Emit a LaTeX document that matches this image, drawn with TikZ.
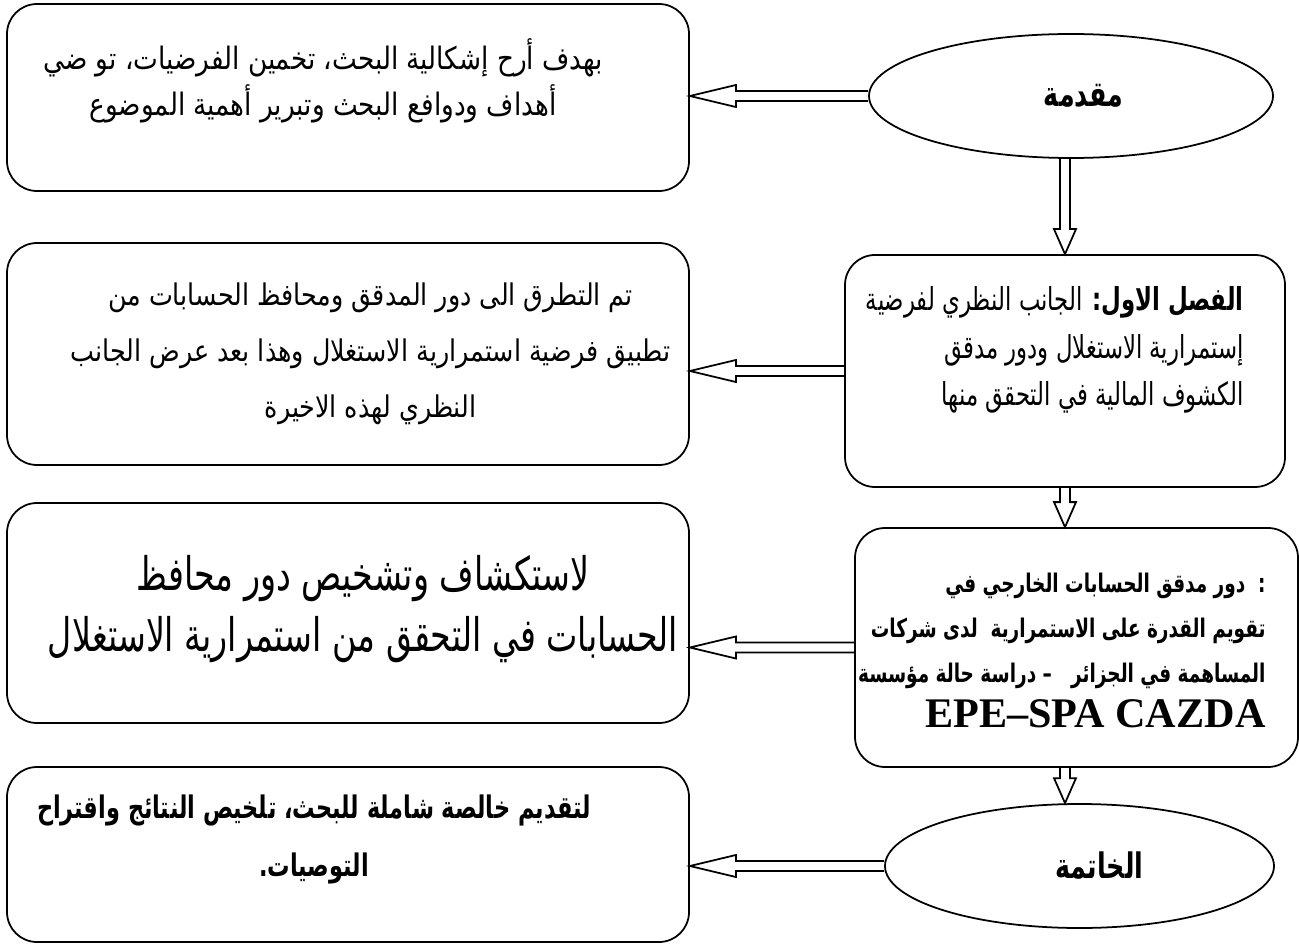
\documentclass[tikz,border=0pt]{standalone}
\usepackage{fontspec}
\setmainfont{Liberation Serif}
\newfontfamily\arabicfont[Script=Arabic, FakeStretch=0.85]{DejaVu Sans}
\newfontfamily\narrowfont[Script=Arabic, FakeStretch=0.72]{DejaVu Sans}
\TeXXeTstate=1
\usetikzlibrary{calc,shapes}

\begin{document}
\begin{tikzpicture}
\tikzset{
	round box/.style = {draw, line width = 1pt, rounded corners = 0.6cm, inner sep = 0},
	oval node/.style = {ellipse, draw, line width = 1pt, inner sep = 0, minimum height = 2.48cm,
		font = \narrowfont\bfseries\fontsize{20}{20}\selectfont},
	box text/.style = {align = center, inner sep = 0, font = \arabicfont\fontsize{17.6}{26}\selectfont},
	left block/.style = {line width = 1pt, to path = {
		let \p1 = (\tikztostart), \p2 = (\tikztotarget) in
		(\x1,\y1+0.1cm) -- (\x2+0.92cm,\y1+0.1cm) -- (\x2+0.92cm,\y1+0.22cm) -- (\x2,\y1)
		-- (\x2+0.92cm,\y1-0.22cm) -- (\x2+0.92cm,\y1-0.1cm) -- (\x1,\y1-0.1cm)}},
	down block/.style = {line width = 1pt, to path = {
		let \p1 = (\tikztostart), \p2 = (\tikztotarget) in
		(\x1-0.1cm,\y1) -- (\x1-0.1cm,\y2+0.5cm) -- (\x1-0.22cm,\y2+0.5cm) -- (\x1,\y2)
		-- (\x1+0.22cm,\y2+0.5cm) -- (\x1+0.1cm,\y2+0.5cm) -- (\x1+0.1cm,\y1)}},
}
\useasboundingbox (0,0) rectangle (25.98,-18.94);

% right column
\node(muqaddima)[oval node, minimum width = 8.08cm] at (21.42,-1.92)
	{\hspace*{0.5cm}\beginR مقدمة\endR};
\node(fasl1)[round box, minimum width = 8.8cm, minimum height = 4.64cm] at (21.30,-7.42) {};
\node(fasl2)[round box, minimum width = 8.86cm, minimum height = 4.78cm] at (21.53,-12.95) {};
\node(khatima)[oval node, minimum width = 7.78cm] at (21.59,-17.32)
	{\hspace*{0.8cm}\beginR الخاتمة\endR};

% left column
\node(hadaf)[round box, minimum width = 13.64cm, minimum height = 3.74cm] at (6.96,-1.95) {};
\node(tatarruq)[round box, minimum width = 13.64cm, minimum height = 4.44cm] at (6.96,-7.08) {};
\node(istikshaf)[round box, minimum width = 13.64cm, minimum height = 4.4cm] at (6.96,-12.26) {};
\node(taqdim)[round box, minimum width = 13.64cm, minimum height = 3.5cm] at (6.96,-17.09) {};

% texts
\node(hadaf-t)[box text] at ([xshift = -0.5cm, yshift = 0.34cm]hadaf.center)
	{\beginR بهدف أرح إشكالية البحث، تخمين الفرضيات، تو ضي\endR\\
	\beginR أهداف ودوافع البحث وتبرير  أهمية الموضوع\endR};
\node(tatarruq-t)[box text, font = \arabicfont\fontsize{17}{32}\selectfont] at ([xshift = 0.45cm]tatarruq.center)
	{\beginR تم التطرق الى دور  المدقق ومحافظ الحسابات من\endR\\
	\beginR تطبيق فرضية استمرارية الاستغلال وهذا بعد عرض الجانب\endR\\
	\beginR النظري لهذه الاخيرة\endR};
\node(istikshaf-t)[box text, font = \narrowfont\fontsize{26.3}{35}\selectfont] at ([xshift = 0.3cm, yshift = 0.08cm]istikshaf.center)
	{\beginR لاستكشاف وتشخيص دور محافظ\endR\\
	\beginR الحسابات في التحقق من استمرارية الاستغلال\endR};
\node(taqdim-t)[box text, font = \narrowfont\bfseries\fontsize{17.7}{33}\selectfont] at ([xshift = -0.68cm, yshift = 0.3cm]taqdim.center)
	{\beginR لتقديم خالصة شاملة للبحث، تلخيص النتائج واقتراح\endR\\
	\beginR التوصيات.\endR};
\node(fasl1-t)[box text, align = right, anchor = east, font = \narrowfont\fontsize{18}{27}\selectfont]
	at ([xshift = -0.84cm, yshift = 0.42cm]fasl1.east)
	{\beginR{\bfseries الفصل الاول:} الجانب النظري لفرضية\endR\\
	\beginR إستمرارية الاستغلال ودور مدقق\endR\\
	\beginR الكشوف المالية في التحقق منها\endR};
\node(fasl2-t)[box text, align = right, anchor = east, font = \narrowfont\bfseries\fontsize{14.6}{25.6}\selectfont]
	at ([xshift = -0.66cm, yshift = -0.05cm]fasl2.east)
	{\beginR :\ \ دور مدقق الحسابات الخارجي في\endR\\
	\beginR تقويم القدرة على الاستمرارية\ \ لدى شركات\endR\\
	\beginR المساهمة في الجزائر\ \ \ – دراسة حالة مؤسسة\endR\\
	{\rmfamily\fontsize{24}{25.6}\selectfont EPE–SPA CAZDA}};

% connectors
\foreach \a/\b in {muqaddima/hadaf, fasl1/tatarruq, fasl2/istikshaf, khatima/taqdim}
	\draw[left block] (\a.west) to (\b.east |- \a.west);
\foreach \a/\b in {muqaddima/fasl1, fasl1/fasl2, fasl2/khatima}
	\draw[down block] (fasl1.north |- \a.south) to (fasl1.north |- \b.north);

\end{tikzpicture}
\end{document}
